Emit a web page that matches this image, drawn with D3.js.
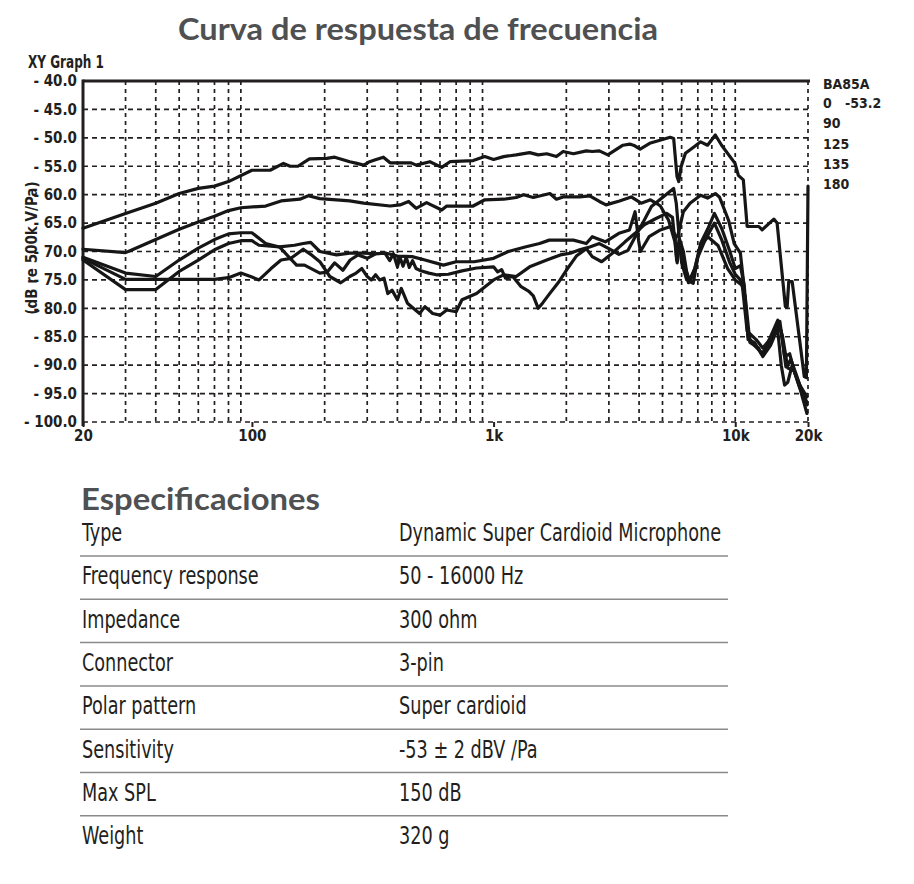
<!DOCTYPE html>
<html>
<head>
<meta charset="utf-8">
<script src="https://cdn.jsdelivr.net/npm/d3@7/dist/d3.min.js"></script>
<style>
  html, body { margin: 0; padding: 0; background: #fff; }
  svg { display: block; }
</style>
</head>
<body>
<svg id="chart" width="914" height="884"></svg>
<script>
// ---------------- DATA ----------------
const chartTitle = "Curva de respuesta de frecuencia";
const graphName = "XY Graph 1";
const yAxisLabel = "(dB re 500k V/Pa)";
const yTicks = [-40, -45, -50, -55, -60, -65, -70, -75, -80, -85, -90, -95, -100];
const xTickValues = [20, 100, 1000, 10000, 20000];
const xTickLabels = ["20", "100", "1k", "10k", "20k"];
const xGridFreqs = [30, 40, 50, 60, 70, 80, 90, 200, 300, 400, 500, 600, 700, 800, 900,
                    2000, 3000, 4000, 5000, 6000, 7000, 8000, 9000, 10000, 20000];
const legendTitle = "BA85A";
const legendAngles = ["0", "90", "125", "135", "180"];
const legendRef = "-53.2";

const curve0 = [[20,-65.9],[30,-63.3],[40,-61.5],[50,-59.8],[60,-58.9],[70,-58.5],[80,-57.7],[100,-55.7],[119,-55.7],[135,-54.5],[144,-55.0],[155,-55.0],[173,-53.7],[204,-53.6],[220,-53.4],[254,-54.2],[272,-54.5],[290,-54.8],[307,-54.2],[322,-53.9],[350,-53.4],[373,-54.4],[456,-54.4],[478,-54.8],[545,-54.2],[610,-55.2],[660,-54.2],[823,-54.0],[920,-53.3],[1000,-53.8],[1100,-53.3],[1240,-53.0],[1410,-52.6],[1530,-53.0],[1660,-52.8],[1820,-53.3],[1940,-52.4],[2140,-52.8],[2420,-52.3],[2560,-52.4],[2740,-52.3],[2970,-53.0],[3430,-51.3],[3660,-51.1],[3840,-51.4],[4040,-52.0],[4460,-50.9],[5380,-49.9],[5560,-50.1],[5740,-56.8],[5840,-57.7],[5970,-55.1],[6220,-52.7],[6740,-51.6],[7190,-50.7],[7680,-51.3],[8270,-49.5],[8780,-51.3],[9980,-54.5],[10300,-56.6],[10800,-57.4],[11200,-65.6],[12520,-65.6],[12920,-66.2],[14440,-64.3],[14900,-65.0],[16120,-79.7],[16400,-79.7],[16650,-75.3],[17200,-75.3],[19300,-92.0],[19700,-92.2],[20000,-58.5]];

const curve90 = [[20,-69.6],[30,-70.2],[32,-69.7],[40,-67.9],[50,-66.1],[60,-64.8],[70,-63.8],[80,-62.8],[90,-62.3],[114,-62.0],[132,-61.1],[158,-60.8],[171,-60.2],[191,-60.7],[254,-61.1],[290,-61.5],[373,-62.0],[410,-61.8],[445,-61.2],[478,-62.4],[528,-61.4],[610,-62.7],[640,-62.0],[823,-62.0],[920,-60.9],[1100,-60.8],[1240,-60.5],[1330,-60.0],[1460,-60.5],[1710,-59.8],[1820,-60.8],[1940,-60.4],[2270,-60.4],[2500,-60.2],[2740,-61.2],[2920,-61.8],[3320,-61.1],[3710,-60.4],[4080,-61.5],[4460,-60.9],[4750,-61.6],[4900,-62.0],[5300,-64.5],[5600,-68.0],[5800,-67.0],[6100,-63.0],[6500,-61.5],[7190,-60.1],[7680,-60.6],[8270,-59.8],[8600,-60.4],[9380,-64.5],[9900,-68.6],[10500,-70.3],[10800,-75.0],[11300,-85.0],[12000,-86.5],[13000,-88.0],[14000,-85.0],[15000,-82.1],[15700,-85.0],[16500,-90.5],[17500,-91.0],[18500,-93.5],[19800,-95.6]];

const curve125 = [[20,-71.0],[30,-73.8],[40,-74.4],[50,-71.5],[60,-69.4],[70,-67.9],[80,-66.9],[90,-66.7],[100,-66.7],[114,-68.6],[130,-69.2],[153,-72.4],[165,-72.4],[191,-73.8],[205,-73.6],[220,-72.0],[238,-73.3],[255,-71.5],[275,-70.6],[300,-71.2],[325,-70.4],[355,-70.3],[372,-71.6],[385,-70.4],[400,-72.7],[410,-71.0],[422,-72.6],[435,-71.0],[448,-72.8],[462,-71.6],[478,-73.0],[500,-73.4],[540,-73.8],[580,-74.1],[650,-74.0],[740,-73.4],[850,-72.9],[1000,-72.7],[1040,-73.6],[1080,-73.2],[1120,-74.7],[1200,-74.4],[1300,-76.2],[1400,-77.0],[1460,-77.8],[1530,-80.0],[1600,-79.0],[1700,-77.5],[1850,-75.5],[2000,-73.3],[2200,-70.8],[2420,-69.5],[2560,-70.9],[2800,-71.8],[3100,-70.3],[3500,-68.3],[3850,-66.8],[4200,-65.3],[4700,-64.2],[5200,-63.3],[5500,-64.0],[5650,-69.0],[5750,-72.0],[5900,-68.0],[6100,-70.0],[6400,-75.5],[6800,-73.0],[7200,-68.5],[7700,-66.0],[8200,-63.3],[8800,-66.0],[9500,-70.0],[10000,-73.0],[10500,-72.5],[10900,-76.0],[11300,-85.5],[12000,-86.0],[12800,-88.0],[13500,-87.0],[14500,-84.0],[15300,-82.3],[16000,-88.5],[16800,-88.0],[17500,-90.9],[18500,-94.0],[19800,-98.5]];

const curve135 = [[20,-71.2],[30,-74.9],[40,-74.9],[55,-74.9],[70,-74.9],[80,-74.6],[90,-73.8],[100,-74.5],[107,-75.0],[120,-73.0],[132,-71.5],[145,-71.2],[163,-69.6],[175,-70.5],[191,-71.8],[210,-74.4],[233,-75.5],[254,-74.4],[270,-73.8],[285,-73.0],[300,-74.4],[312,-75.0],[325,-74.1],[338,-75.0],[352,-74.7],[365,-77.4],[380,-76.8],[400,-78.5],[415,-76.5],[440,-79.1],[494,-80.9],[520,-79.7],[560,-80.9],[600,-81.2],[640,-80.3],[700,-80.6],[740,-78.5],[850,-77.4],[1000,-75.0],[1100,-74.1],[1240,-74.4],[1410,-72.7],[1660,-71.5],[1890,-70.6],[2080,-70.3],[2270,-69.7],[2500,-69.2],[2740,-68.6],[3000,-69.5],[3300,-70.5],[3600,-69.8],[3900,-67.0],[4200,-64.5],[4500,-62.1],[5000,-60.5],[5560,-58.9],[5700,-61.5],[5850,-67.0],[6000,-72.0],[6300,-75.0],[6700,-75.6],[7000,-71.0],[7500,-68.0],[8200,-65.0],[8800,-68.0],[9500,-72.0],[10000,-74.0],[10500,-75.0],[11000,-78.0],[11500,-86.0],[12500,-87.0],[13000,-88.5],[14000,-86.5],[15000,-83.5],[15500,-84.0],[16200,-90.3],[17000,-89.0],[18000,-92.0],[19000,-95.0],[19800,-96.5]];

const curve180 = [[20,-71.5],[30,-76.7],[40,-76.7],[50,-73.5],[60,-71.5],[70,-69.7],[80,-68.6],[90,-68.1],[100,-68.1],[107,-68.9],[130,-69.2],[150,-68.9],[163,-68.6],[175,-68.4],[191,-70.0],[224,-70.6],[254,-70.3],[290,-70.3],[330,-70.4],[360,-70.3],[400,-70.8],[460,-70.9],[520,-71.5],[620,-72.4],[700,-71.8],[830,-71.8],[1000,-71.2],[1150,-70.0],[1350,-69.2],[1550,-68.6],[1700,-68.0],[1900,-68.0],[2140,-68.0],[2420,-68.6],[2560,-67.4],[2900,-68.3],[3300,-66.8],[3650,-66.2],[3850,-63.0],[3980,-68.0],[4050,-70.0],[4400,-67.4],[4900,-66.2],[5400,-65.6],[5620,-67.0],[5720,-71.5],[5850,-68.0],[6100,-72.0],[6500,-75.3],[6800,-73.0],[7200,-69.0],[7700,-67.4],[8500,-69.0],[9300,-73.0],[10000,-75.0],[10700,-76.0],[11200,-84.0],[12200,-85.5],[13000,-87.0],[14200,-85.0],[15000,-84.0],[15500,-90.0],[16000,-93.5],[16500,-93.0],[17200,-90.0],[18500,-94.0],[19800,-97.0]];

const seriesList = [curve0, curve90, curve125, curve135, curve180];

const specTitle = "Especificaciones";
const specKeys = ["Type", "Frequency response", "Impedance", "Connector", "Polar pattern", "Sensitivity", "Max SPL", "Weight"];
const specValues = ["Dynamic Super Cardioid Microphone", "50 - 16000 Hz", "300 ohm", "3-pin", "Super cardioid", "-53 \u00B1 2 dBV /Pa", "150 dB", "320 g"];

// ---------------- DRAW ----------------
const COND = "'Liberation Sans Narrow','DejaVu Sans Condensed','Roboto Condensed',sans-serif";
const HEAD = "Lato,'Open Sans','Noto Sans',sans-serif";
const svg = d3.select("#chart");

function fit(sel, w) {
  sel.attr("textLength", w).attr("lengthAdjust", "spacingAndGlyphs");
}

const x = d3.scaleLog().domain([20, 20000]).range([83, 808]);
const y = d3.scaleLinear().domain([-100, -40]).range([422, 81]);

// Title
svg.append("text").attr("x", 178).attr("y", 40)
  .attr("font-family", HEAD).attr("font-weight", 700).attr("font-size", 30)
  .attr("fill", "#4f5052").text(chartTitle).call(fit, 480);

svg.append("text").attr("x", 28).attr("y", 68)
  .attr("font-family", COND).attr("font-weight", 700).attr("font-size", 18)
  .attr("fill", "#231f20").text(graphName).call(fit, 76);

// grid
const g = svg.append("g");
g.selectAll("line.hg").data(yTicks.filter(d => d !== -40)).enter().append("line")
  .attr("x1", x(20)).attr("x2", x(20000))
  .attr("y1", d => y(d)).attr("y2", d => y(d))
  .attr("stroke", "#231f20").attr("stroke-width", 1.7).attr("stroke-dasharray", "5,4");
g.selectAll("line.vg").data(xGridFreqs).enter().append("line")
  .attr("x1", d => x(d)).attr("x2", d => x(d))
  .attr("y1", y(-40)).attr("y2", y(-100))
  .attr("stroke", "#231f20").attr("stroke-width", 1.7).attr("stroke-dasharray", "4,4");

// axes
const yAxis = d3.axisLeft(y).tickValues(yTicks).tickSize(0).tickPadding(6)
  .tickFormat(d => "- " + Math.abs(d).toFixed(1));
const ya = svg.append("g").attr("transform", `translate(${x(20)},0)`).call(yAxis);
ya.select(".domain").remove();
ya.selectAll("text").attr("font-family", COND).attr("font-weight", 700)
  .attr("font-size", 15).attr("fill", "#231f20");

const xAxis = d3.axisBottom(x).tickValues(xTickValues).tickSize(5).tickPadding(3)
  .tickFormat((d, i) => xTickLabels[i]);
const xa = svg.append("g").attr("transform", `translate(0,${y(-100)})`).call(xAxis);
xa.select(".domain").remove();
xa.selectAll("line").attr("stroke", "#231f20").attr("stroke-width", 2);
xa.selectAll("text").attr("font-family", COND).attr("font-weight", 700)
  .attr("font-size", 15).attr("fill", "#231f20");

// frame: left axis and top line
svg.append("line").attr("x1", x(20)).attr("x2", x(20))
  .attr("y1", y(-40) - 1.5).attr("y2", y(-100) + 4)
  .attr("stroke", "#231f20").attr("stroke-width", 3);
svg.append("line").attr("x1", x(20)).attr("x2", x(20000) + 2)
  .attr("y1", y(-40)).attr("y2", y(-40))
  .attr("stroke", "#231f20").attr("stroke-width", 3);

// y label
svg.append("text").attr("transform", `translate(37,248) rotate(-90)`)
  .attr("text-anchor", "middle")
  .attr("font-family", COND).attr("font-weight", 700).attr("font-size", 15)
  .attr("fill", "#231f20").text(yAxisLabel);

// curves
const line = d3.line().x(d => x(d[0])).y(d => y(d[1]));
svg.append("g").selectAll("path").data(seriesList).enter().append("path")
  .attr("d", line).attr("fill", "none")
  .attr("stroke", "#161616").attr("stroke-width", 3.2)
  .attr("stroke-linejoin", "round").attr("stroke-linecap", "round");

// legend
const lg = svg.append("g").attr("font-family", COND).attr("font-weight", 700)
  .attr("font-size", 14).attr("fill", "#231f20");
lg.append("text").attr("x", 823).attr("y", 89).text(legendTitle);
lg.selectAll("text.ang").data(legendAngles).enter().append("text")
  .attr("x", 823).attr("y", (d, i) => 108 + i * 20.3).text(d => d);
lg.append("text").attr("x", 845).attr("y", 108).text(legendRef);

// specs
svg.append("text").attr("x", 81).attr("y", 510)
  .attr("font-family", HEAD).attr("font-weight", 700).attr("font-size", 31)
  .attr("fill", "#4f5052").text(specTitle).call(fit, 239);

const tg = svg.append("g").attr("font-family", COND).attr("font-size", 24).attr("fill", "#231f20");
const rowY = i => 541 + i * 43.3;
const keyT = tg.selectAll("text.k").data(specKeys).enter().append("text")
  .attr("x", 82).attr("y", (d, i) => rowY(i)).text(d => d);
const valT = tg.selectAll("text.v").data(specValues).enter().append("text")
  .attr("x", 399).attr("y", (d, i) => rowY(i)).text(d => d);
// uniform horizontal condensing based on longest value
const refW = valT.nodes()[0].getComputedTextLength();
const k = 322 / refW;
keyT.each(function () { const w = this.getComputedTextLength(); d3.select(this).call(fit, w * k); });
valT.each(function () { const w = this.getComputedTextLength(); d3.select(this).call(fit, w * k); });

svg.append("g").selectAll("line").data(specKeys.slice(0, specKeys.length - 1)).enter().append("line")
  .attr("x1", 80).attr("x2", 728)
  .attr("y1", (d, i) => rowY(i) + 15).attr("y2", (d, i) => rowY(i) + 15)
  .attr("stroke", "#8a8a8a").attr("stroke-width", 1.5);
</script>
</body>
</html>
